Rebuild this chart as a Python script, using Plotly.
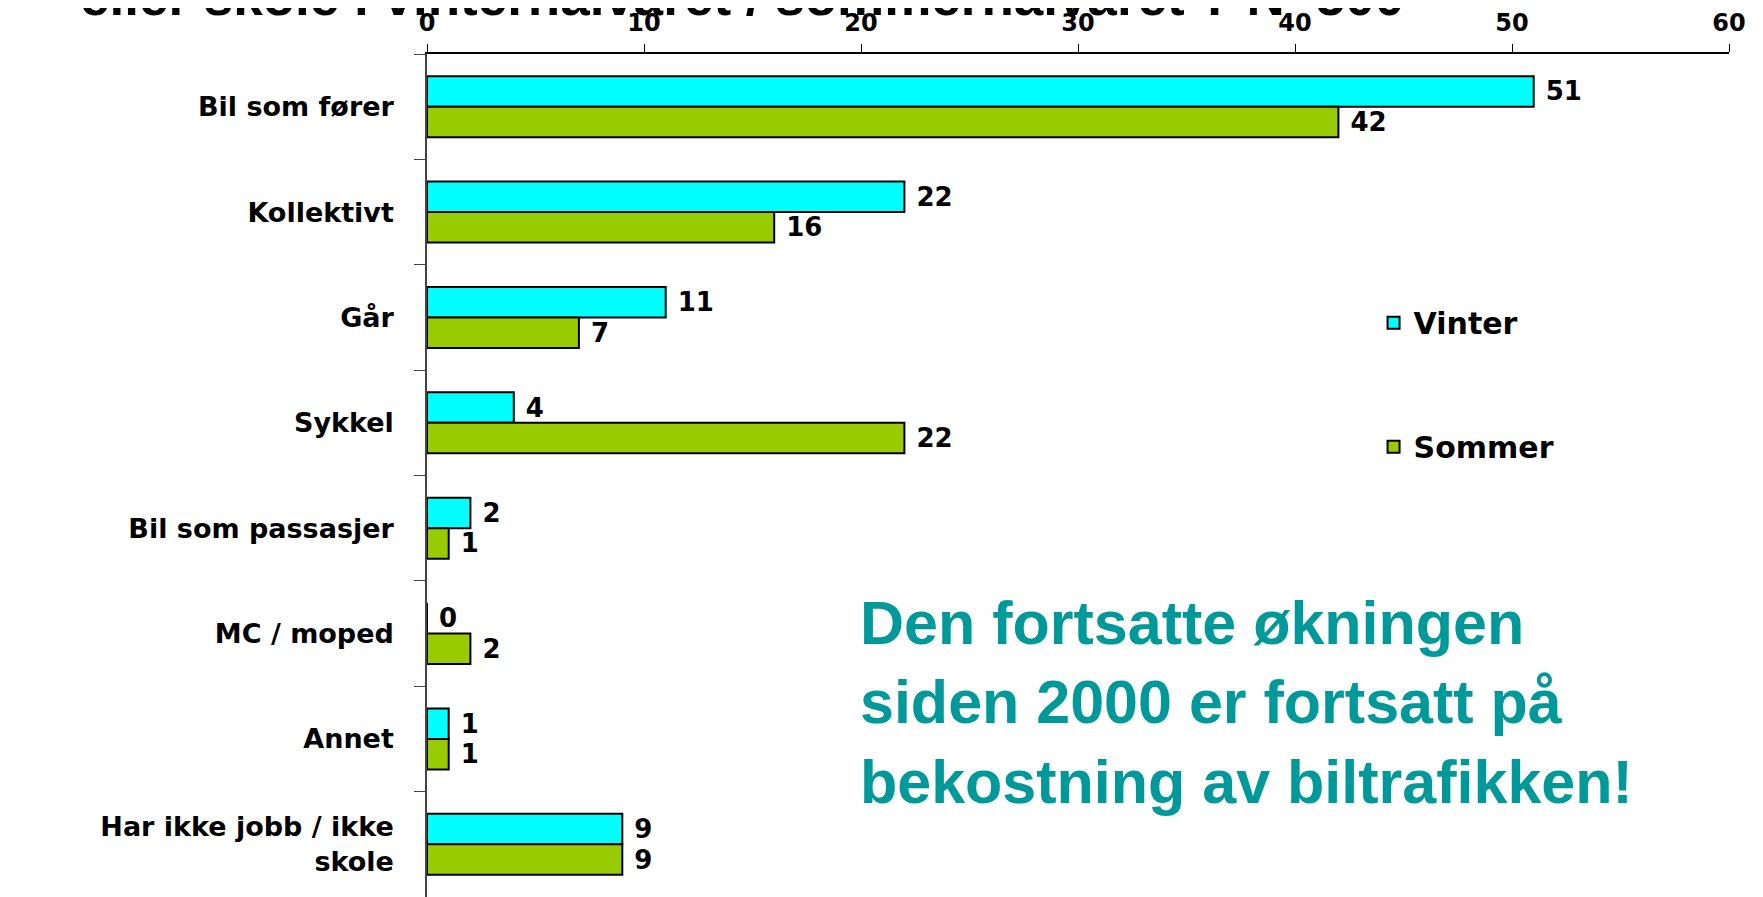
import plotly.graph_objects as go

categories = ["Bil som fører", "Kollektivt", "Går", "Sykkel", "Bil som passasjer",
              "MC / moped", "Annet", "Har ikke jobb / ikke<br>skole"]
vinter = [51, 22, 11, 4, 2, 0, 1, 9]
sommer = [42, 16, 7, 22, 1, 2, 1, 9]
series_names = ["Vinter", "Sommer"]
x_ticks = [0, 10, 20, 30, 40, 50, 60]

title_text = "eller skole i vinterhalvåret / sommerhalvåret ? N=500"
note_text = "Den fortsatte økningen<br>siden 2000 er fortsatt på<br>bekostning av biltrafikken!"

BOLD = "DejaVu Sans"
# page body has an 8px default margin; figure is sized to end at the window edge
W, H = 1755, 889
L, R, T, B = 419, 34, 46, 0
PW = W - L - R
PH = H - T - B

fig = go.Figure()
for name, vals, color in [(series_names[0], vinter, "#00FFFF"),
                          (series_names[1], sommer, "#99CC00")]:
    fig.add_trace(go.Bar(
        y=categories, x=vals, name=name, orientation="h",
        legendgroup=name,
        marker=dict(color=color, line=dict(color="black", width=2)),
        text=vals, texttemplate="\u00a0%{x}", textposition="outside", cliponaxis=False,
        textfont=dict(family=BOLD, size=26, color="black", weight="bold"),
    ))

fig.update_layout(
    width=W, height=H,
    margin=dict(l=L, r=R, t=T, b=B),
    paper_bgcolor="white", plot_bgcolor="white",
    barmode="group", bargap=0.42, bargroupgap=0,
    showlegend=True,
    legend=dict(
        x=0.727, xanchor="left", y=0.712, yanchor="top",
        font=dict(family=BOLD, size=30, color="black", weight="bold"),
        tracegroupgap=82, bgcolor="rgba(0,0,0,0)",
    ),
    xaxis=dict(
        side="top", range=[0, 60], tickvals=x_ticks,
        showgrid=False, zeroline=False,
        showline=True, linecolor="black", linewidth=2,
        ticks="outside", ticklen=8, tickcolor="black", tickwidth=1,
        ticklabelstandoff=3,
        tickfont=dict(family=BOLD, size=24, color="black", weight="bold"),
    ),
    yaxis=dict(
        range=[7.5, -0.5], showgrid=False, zeroline=False,
        showline=True, linecolor="#444444", linewidth=1.5,
        ticks="outside", ticklen=11, tickcolor="#444444", tickwidth=1,
        tickson="boundaries", ticklabelstandoff=26,
        tickfont=dict(family=BOLD, size=27, color="black", weight="bold"),
    ),
    annotations=[
        dict(text=title_text, xref="paper", yref="paper",
             x=(734 - L) / PW, xanchor="center",
             y=1 + (T - 20) / PH, yanchor="bottom", showarrow=False,
             font=dict(family="Liberation Sans", size=53, color="black", weight="bold")),
        dict(text=note_text, xref="paper", yref="paper",
             x=(850 - L) / PW, xanchor="left", align="left",
             y=(H - 694) / PH, yanchor="middle", showarrow=False,
             font=dict(family="Liberation Sans", size=61, color="#009999", weight="bold")),
    ],
)

fig.write_html("out.html")
